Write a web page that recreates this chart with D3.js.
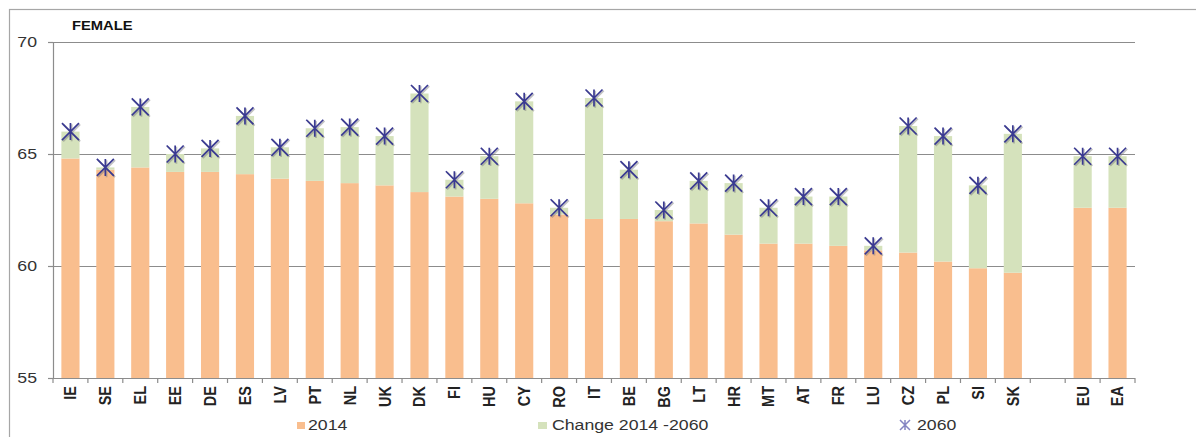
<!DOCTYPE html>
<html>
<head>
<meta charset="utf-8">
<script src="https://cdn.jsdelivr.net/npm/d3@7"></script>
<style>
  html, body { margin: 0; padding: 0; background: #fff; }
  svg { display: block; font-family: "Liberation Sans", Arial, sans-serif; }
</style>
</head>
<body>
<svg id="chart" width="1196" height="437"></svg>
<script>
// Countries in chart order; the empty entry is the spacer before the aggregates
const categories = ["IE","SE","EL","EE","DE","ES","LV","PT","NL","UK","DK","FI","HU","CY","RO","IT","BE","BG","LT","HR","MT","AT","FR","LU","CZ","PL","SI","SK","","EU","EA"];

// Average exit age, women, 2014
const values2014 = [64.8,64.3,64.4,64.2,64.2,64.1,63.9,63.8,63.7,63.6,63.3,63.1,63.0,62.8,62.3,62.1,62.1,62.0,61.9,61.4,61.0,61.0,60.9,60.7,60.6,60.2,59.9,59.7,null,62.6,62.6];

// Average exit age, women, 2060
const values2060 = [66.0,64.4,67.1,65.0,65.25,66.7,65.3,66.15,66.2,65.8,67.7,63.85,64.9,67.35,62.6,67.5,64.3,62.5,63.8,63.7,62.6,63.1,63.1,60.9,66.25,65.8,63.6,65.9,null,64.9,64.9];

const yTicks = [55, 60, 65, 70];
const title = "FEMALE";
const legendLabels = ["2014", "Change 2014 -2060", "2060"];

const colors = { base: "#F9BE8E", change: "#D5E2BC", star: "#3A3A92", grid: "#8C8C8C" };
const stretch = 1.18; // horizontal widening of all text

const svg = d3.select("#chart");
const plot = { left: 53, right: 1135, top: 42, bottom: 378 };

const rows = categories.map((c, i) => ({
  key: i, name: c, v2014: values2014[i], v2060: values2060[i]
}));

const x = d3.scaleBand()
  .domain(rows.map(d => d.key))
  .range([plot.left, plot.right])
  .paddingInner(0.48)
  .paddingOuter(0.24);

const y = d3.scaleLinear().domain([55, 70]).range([plot.bottom, plot.top]);

// frame around the chart
svg.append("rect")
  .attr("x", 9.5).attr("y", 9.5)
  .attr("width", 1400).attr("height", 600)
  .attr("fill", "none").attr("stroke", "#A6A6A6").attr("stroke-width", 1.2);

// horizontal grid
svg.append("g").selectAll("line")
  .data(yTicks.filter(t => t > 55))
  .join("line")
  .attr("x1", plot.left).attr("x2", plot.right)
  .attr("y1", d => Math.round(y(d)) + 0.5).attr("y2", d => Math.round(y(d)) + 0.5)
  .attr("stroke", colors.grid).attr("stroke-width", 1.2);

// helper: text widened horizontally around its anchor
function wideText(g, tx, ty, str, opts) {
  const t = g.append("g").attr("transform", `translate(${tx},${ty}) scale(${stretch},1)`)
    .append("text").text(str)
    .attr("font-size", opts.size).attr("fill", opts.fill || "#222")
    .attr("font-weight", opts.weight || "normal")
    .attr("text-anchor", opts.anchor || "start")
    .attr("dominant-baseline", opts.baseline || "auto");
  return t;
}

// bars: 2014 level
const rowsWithData = rows.filter(d => d.v2014 != null);
svg.append("g").selectAll("rect")
  .data(rowsWithData)
  .join("rect")
  .attr("x", d => x(d.key)).attr("width", x.bandwidth())
  .attr("y", d => y(d.v2014)).attr("height", d => y(55) - y(d.v2014))
  .attr("fill", colors.base);

// bars: change 2014-2060 stacked on top
svg.append("g").selectAll("rect")
  .data(rowsWithData)
  .join("rect")
  .attr("x", d => x(d.key)).attr("width", x.bandwidth())
  .attr("y", d => y(Math.max(d.v2014, d.v2060)))
  .attr("height", d => Math.abs(y(d.v2014) - y(d.v2060)))
  .attr("fill", colors.change);

// y axis
const yAxis = svg.append("g");
yAxis.append("line")
  .attr("x1", plot.left + 0.5).attr("x2", plot.left + 0.5)
  .attr("y1", plot.top).attr("y2", plot.bottom)
  .attr("stroke", colors.grid).attr("stroke-width", 1.2);
yAxis.selectAll("line.tick").data(yTicks).join("line").attr("class", "tick")
  .attr("x1", plot.left - 5).attr("x2", plot.left)
  .attr("y1", d => Math.round(y(d)) + 0.5).attr("y2", d => Math.round(y(d)) + 0.5)
  .attr("stroke", colors.grid).attr("stroke-width", 1.2);
yTicks.forEach(t => wideText(yAxis, 37, y(t), String(t),
  { size: 15, anchor: "end", baseline: "central", fill: "#333" }));

// x axis line with ticks on category boundaries
const xAxis = svg.append("g");
xAxis.append("line")
  .attr("x1", plot.left).attr("x2", plot.right)
  .attr("y1", plot.bottom + 0.5).attr("y2", plot.bottom + 0.5)
  .attr("stroke", colors.grid).attr("stroke-width", 1.2);
const step = x.step();
xAxis.selectAll("line.tick").data(d3.range(categories.length + 1)).join("line").attr("class", "tick")
  .attr("x1", i => plot.left + i * step).attr("x2", i => plot.left + i * step)
  .attr("y1", plot.bottom).attr("y2", plot.bottom + 5)
  .attr("stroke", colors.grid).attr("stroke-width", 1.2);

// rotated category labels
xAxis.selectAll("g.lbl").data(rows.filter(d => d.name)).join("g").attr("class", "lbl")
  .attr("transform", d => `translate(${x(d.key) + x.bandwidth() / 2},386) rotate(-90) scale(1,${stretch})`)
  .append("text").text(d => d.name)
  .attr("text-anchor", "end").attr("dominant-baseline", "central")
  .attr("font-size", 14.5).attr("font-weight", "bold").attr("fill", "#222");

// 2060 markers
const starPath = r => `M${-r},${-r}L${r},${r}M${-r},${r}L${r},${-r}M0,${-r}L0,${r}`;
const stars = svg.append("g");
stars.selectAll("path.sh").data(rowsWithData).join("path").attr("class", "sh")
  .attr("transform", d => `translate(${x(d.key) + x.bandwidth() / 2 + 1.2},${y(d.v2060) + 1.2})`)
  .attr("d", starPath(8.5)).attr("fill", "none")
  .attr("stroke", "#777").attr("stroke-opacity", 0.45).attr("stroke-width", 1.8);
stars.selectAll("path.st").data(rowsWithData).join("path").attr("class", "st")
  .attr("transform", d => `translate(${x(d.key) + x.bandwidth() / 2},${y(d.v2060)})`)
  .attr("d", starPath(8.5)).attr("fill", "none")
  .attr("stroke", colors.star).attr("stroke-width", 1.7);

// title
wideText(svg, 72, 30, title, { size: 12.5, weight: "bold", fill: "#111" });

// legend
const legend = svg.append("g");
legend.append("rect").attr("x", 297).attr("y", 422).attr("width", 8).attr("height", 7).attr("fill", colors.base);
wideText(legend, 308, 430, legendLabels[0], { size: 15, fill: "#333" });
legend.append("rect").attr("x", 538).attr("y", 422).attr("width", 9).attr("height", 7).attr("fill", colors.change);
wideText(legend, 552, 430, legendLabels[1], { size: 15, fill: "#333" });
legend.append("path").attr("transform", "translate(905,425)").attr("d", starPath(5))
  .attr("fill", "none").attr("stroke", "#8585C2").attr("stroke-width", 1.5);
wideText(legend, 917, 430, legendLabels[2], { size: 15, fill: "#333" });
</script>
</body>
</html>
